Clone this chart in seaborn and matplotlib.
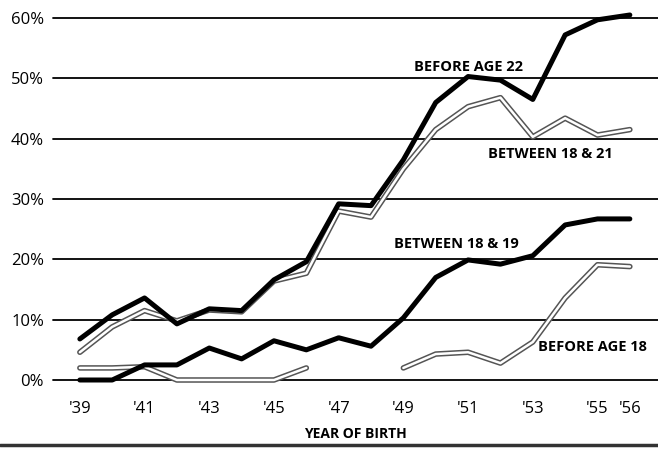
import numpy as np
import pandas as pd
import matplotlib
matplotlib.use("Agg")
import matplotlib.pyplot as plt
import seaborn as sns
from matplotlib.lines import Line2D


# -------------------------------------------------------------------------------------------
# Data (percent)

years = list(range(1939, 1957))
tick_years = [1939, 1941, 1943, 1945, 1947, 1949, 1951, 1953, 1955, 1956]
tick_labels = ["'39", "'41", "'43", "'45", "'47", "'49", "'51", "'53", "'55", "'56"]

before_22 = [6.8, 10.8, 13.6, 9.3, 11.8, 11.5, 16.6, 19.6, 29.2, 28.9,
             36.5, 46.0, 50.3, 49.7, 46.5, 57.2, 59.7, 60.5]
between_18_21 = [4.6, 8.8, 11.5, 9.8, 11.6, 11.3, 16.4, 17.7, 28.0, 27.0,
                 35.0, 41.5, 45.3, 46.8, 40.3, 43.4, 40.6, 41.5]
between_18_19 = [0.0, 0.0, 2.5, 2.5, 5.3, 3.5, 6.5, 5.0, 7.0, 5.6,
                 10.3, 17.0, 19.9, 19.2, 20.6, 25.7, 26.7, 26.7]
before_18 = [2.0, 2.0, 2.2, 0.0, 0.0, 0.0, 0.0, 2.0, np.nan, np.nan,
             2.0, 4.3, 4.6, 2.8, 6.3, 13.6, 19.1, 18.8]

font = ["Open Sans", "DejaVu Sans"]


def segments(values):
    # split a series at NaN gaps
    df = pd.DataFrame({"year": years, "value": values})
    grp = df["value"].isna().cumsum()
    return [g.dropna() for _, g in df.groupby(grp) if len(g.dropna()) > 1]


# -------------------------------------------------------------------------------------------
# Figure

sns.set_style("white")
plt.rcParams["font.family"] = font
plt.rcParams["text.color"] = "black"

fig = plt.figure(figsize=(6.58, 4.53), dpi=100)
ax = fig.add_axes([53 / 658, 73 / 453, 605 / 658, 362 / 453])

for y in range(0, 61, 10):
    ax.axhline(y, color="black", lw=1.3, zorder=1, clip_on=False)

# double (outlined) lines
for series in [between_18_21, before_18]:
    for seg in segments(series):
        sns.lineplot(data=seg, x="year", y="value", ax=ax, color="#555555",
                     lw=4.0, zorder=2, clip_on=False)
        sns.lineplot(data=seg, x="year", y="value", ax=ax, color="white",
                     lw=1.8, zorder=3, clip_on=False)

# thick black lines
for series in [before_22, between_18_19]:
    df = pd.DataFrame({"year": years, "value": series})
    sns.lineplot(data=df, x="year", y="value", ax=ax, color="black",
                 lw=3.6, zorder=4, clip_on=False)

label_style = dict(fontsize=10.5, fontweight="bold", ha="center", va="center",
                   family=font, color="black")
ax.text(1951.0, 51.9, "BEFORE AGE 22", **label_style)
ax.text(1953.53, 37.5, "BETWEEN 18 & 21", **label_style)
ax.text(1950.65, 22.5, "BETWEEN 18 & 19", **label_style)
ax.text(1954.83, 5.5, "BEFORE AGE 18", **label_style)

ax.set_xlim(1938.17, 1956.87)
ax.set_ylim(0, 60)
ax.set_xticks(tick_years)
ax.set_xticklabels(tick_labels)
ax.set_yticks(range(0, 61, 10))
ax.set_yticklabels([f"{v}%" for v in range(0, 61, 10)])
ax.tick_params(axis="both", length=0, labelsize=12, labelcolor="black")
ax.tick_params(axis="x", pad=15)
ax.tick_params(axis="y", pad=6.5)
ax.set_xlabel("YEAR OF BIRTH", fontsize=10, fontweight="bold", labelpad=7,
              color="black")
ax.set_ylabel("")
for side in ax.spines.values():
    side.set_visible(False)

# page rule at the bottom
fig.add_artist(Line2D([0, 1], [1 - 445 / 453] * 2, color="#333333", lw=2.5))

fig.savefig("out.png", dpi=100)
